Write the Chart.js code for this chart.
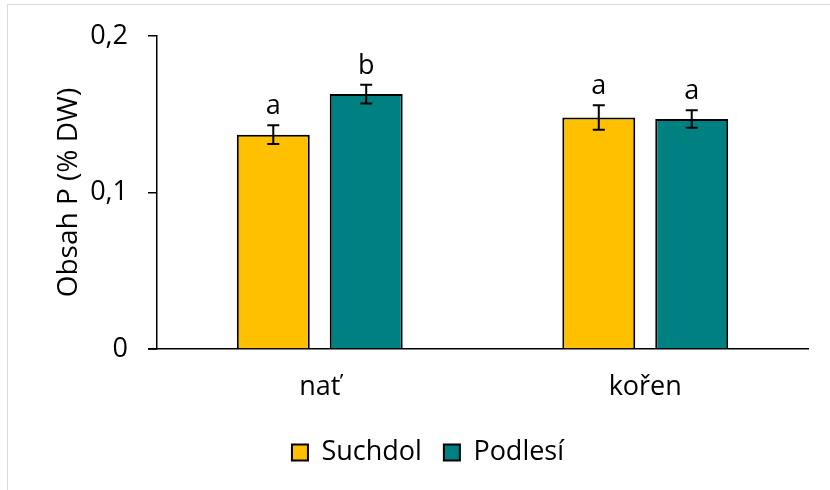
<!DOCTYPE html>
<html>
<head>
<meta charset="utf-8">
<script src="https://cdn.jsdelivr.net/npm/chart.js@4.4.0/dist/chart.umd.min.js"></script>
<style>
  html, body { margin: 0; padding: 0; background: #fff; }
  #wrap { width: 830px; height: 490px; position: relative; }
</style>
</head>
<body>
<div id="wrap"><canvas id="chart" width="830" height="490"></canvas></div>
<script>
// data
const categories = ['nať', 'kořen'];
const suchdolValues = [0.137, 0.148];
const podlesiValues = [0.163, 0.147];
const suchdolErrors = [0.006, 0.0078];
const podlesiErrors = [0.006, 0.0056];
const suchdolLetters = ['a', 'a'];
const podlesiLetters = ['b', 'a'];
const yTicks = [0, 0.1, 0.2];

const FONT = '"Open Sans", "Noto Sans", sans-serif';

// frame lines (top and left only, as in the picture)
const framePlugin = {
  id: 'frame',
  beforeDraw(chart) {
    const c = chart.ctx;
    c.save();
    c.strokeStyle = '#d9d9d9';
    c.lineWidth = 1;
    c.beginPath();
    c.moveTo(7.5, 490);
    c.lineTo(7.5, 4.5);
    c.lineTo(830, 4.5);
    c.stroke();
    c.restore();
  },
  afterDraw(chart) {
    // x axis line continues a little left of the y axis
    const a = chart.chartArea;
    const c = chart.ctx;
    c.save();
    c.strokeStyle = '#000';
    c.lineWidth = 1.5;
    c.beginPath();
    c.moveTo(a.left - 9, a.bottom);
    c.lineTo(a.left, a.bottom);
    c.stroke();
    c.restore();
  }
};

// error bars + significance letters
const errorPlugin = {
  id: 'errorBars',
  afterDatasetsDraw(chart) {
    const c = chart.ctx;
    const yScale = chart.scales.y;
    c.save();
    chart.data.datasets.forEach((ds, i) => {
      const meta = chart.getDatasetMeta(i);
      meta.data.forEach((bar, j) => {
        const v = ds.data[j];
        const e = ds.errors[j];
        const yTop = yScale.getPixelForValue(v + e);
        const yBot = yScale.getPixelForValue(v - e);
        c.strokeStyle = '#000';
        c.lineWidth = 2;
        c.beginPath();
        c.moveTo(bar.x, yTop);
        c.lineTo(bar.x, yBot);
        c.moveTo(bar.x - 6, yTop);
        c.lineTo(bar.x + 6, yTop);
        c.moveTo(bar.x - 6, yBot);
        c.lineTo(bar.x + 6, yBot);
        c.stroke();
        c.fillStyle = '#000';
        c.font = '27px ' + FONT;
        c.textAlign = 'center';
        c.textBaseline = 'alphabetic';
        c.fillText(ds.letters[j], bar.x, yTop - 11);
      });
    });
    c.restore();
  }
};

new Chart(document.getElementById('chart'), {
  type: 'bar',
  data: {
    labels: categories,
    datasets: [
      {
        label: 'Suchdol',
        data: suchdolValues,
        errors: suchdolErrors,
        letters: suchdolLetters,
        backgroundColor: '#FFC000',
        borderColor: '#000',
        borderWidth: 2,
        categoryPercentage: 0.571,
        barPercentage: 0.785
      },
      {
        label: 'Podlesí',
        data: podlesiValues,
        errors: podlesiErrors,
        letters: podlesiLetters,
        backgroundColor: '#008080',
        borderColor: '#000',
        borderWidth: 2,
        categoryPercentage: 0.571,
        barPercentage: 0.785
      }
    ]
  },
  options: {
    responsive: false,
    animation: false,
    layout: { padding: { top: 36, left: 48, right: 22, bottom: 14 } },
    scales: {
      x: {
        grid: { display: false },
        border: { color: '#000', width: 1.5 },
        ticks: { color: '#000', font: { family: FONT, size: 27 }, padding: 14, maxRotation: 0 },
        afterFit(scale) { scale.height = 68; }
      },
      y: {
        min: 0,
        max: 0.2,
        afterBuildTicks(scale) { scale.ticks = yTicks.map(v => ({ value: v })); },
        grid: { drawOnChartArea: false, drawTicks: true, tickLength: 9, color: '#000', lineWidth: 1.5 },
        border: { color: '#000', width: 1.5 },
        ticks: {
          color: '#000',
          font: { family: FONT, size: 27 },
          padding: 20,
          callback: v => v === 0 ? '0' : String(v).replace('.', ',')
        },
        title: {
          display: true,
          text: 'Obsah P (% DW)',
          color: '#000',
          font: { family: FONT, size: 28 }
        },
        afterFit(scale) { scale.width = 109; }
      }
    },
    plugins: {
      legend: {
        position: 'bottom',
        labels: {
          color: '#000',
          font: { family: FONT, size: 27 },
          boxWidth: 16,
          boxHeight: 16,
          padding: 22,
          useBorderRadius: false
        }
      },
      tooltip: { enabled: false }
    }
  },
  plugins: [framePlugin, errorPlugin]
});
</script>
</body>
</html>
